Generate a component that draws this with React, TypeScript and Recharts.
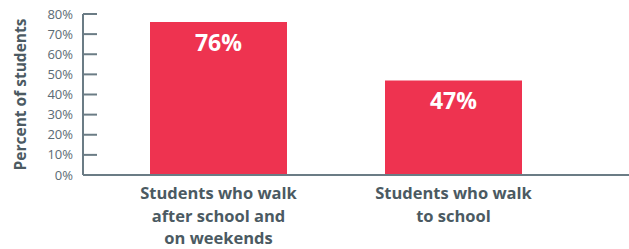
import { Bar, BarChart, LabelList, XAxis, YAxis } from 'recharts';

const categories = ['Students who walk after school and on weekends', 'Students who walk to school'];
const categoryLines = [
  ['Students who walk', 'after school and', 'on weekends'],
  ['Students who walk', 'to school'],
];
const percentValues = [76, 47];
const yTicks = [0, 10, 20, 30, 40, 50, 60, 70, 80];

const data = categories.map((name, i) => ({ name, pct: percentValues[i] }));

const AXIS = '#6b7c85';
const TEXT = '#4b5a62';
const BAR = '#ee3350';
const FONT = '"Open Sans", sans-serif';

function YTick({ x, y, payload }: any) {
  // ticks point into the plot area
  return (
    <g>
      <line x1={x + 10} x2={x + 24} y1={y} y2={y} stroke={AXIS} strokeWidth={2} />
      <text x={x} y={y} dy={4.5} textAnchor="end" fill="#5b6b74" fontSize={13} fontFamily={FONT}>
        {payload.value}%
      </text>
    </g>
  );
}

function XTick({ x, y, payload, index }: any) {
  const lines = categoryLines[index] ?? [payload.value];
  return (
    <text x={x} y={y} textAnchor="middle" fill={TEXT} fontSize={16.5} fontWeight={700} fontFamily={FONT}>
      {lines.map((l: string, i: number) => (
        <tspan key={i} x={x} y={y + 16 + i * 22.5}>
          {l}
        </tspan>
      ))}
    </text>
  );
}

function YLabel({ viewBox }: any) {
  const cy = viewBox.y + viewBox.height / 2;
  return (
    <text
      x={20}
      y={cy}
      transform={`rotate(-90, 20, ${cy})`}
      textAnchor="middle"
      dominantBaseline="central"
      fill={TEXT}
      fontSize={15.5}
      fontWeight={700}
      fontFamily={FONT}
    >
      Percent of students
    </text>
  );
}

function ValueLabel({ x, y, width, value }: any) {
  return (
    <text x={x + width / 2} y={y + 29} textAnchor="middle" fill="#ffffff" fontSize={23} fontWeight={700} fontFamily={FONT}>
      {value}%
    </text>
  );
}

export default function App() {
  return (
    <div style={{ position: 'fixed', left: 0, top: 0, width: 629, height: 249, background: '#fff' }}>
      <BarChart width={629} height={249} data={data} margin={{ top: 14, right: 0, left: 0, bottom: 0 }}>
        <XAxis
          dataKey="name"
          height={74}
          interval={0}
          tickLine={false}
          axisLine={{ stroke: AXIS, strokeWidth: 2 }}
          padding={{ left: 18, right: 58 }}
          tick={<XTick />}
        />
        <YAxis
          width={83}
          domain={[0, 80]}
          ticks={yTicks}
          interval={0}
          tickLine={false}
          tickSize={0}
          tickMargin={10}
          axisLine={{ stroke: AXIS, strokeWidth: 2 }}
          tick={<YTick />}
          label={<YLabel />}
        />
        <Bar dataKey="pct" fill={BAR} barSize={137} isAnimationActive={false}>
          <LabelList dataKey="pct" content={<ValueLabel />} />
        </Bar>
      </BarChart>
    </div>
  );
}
